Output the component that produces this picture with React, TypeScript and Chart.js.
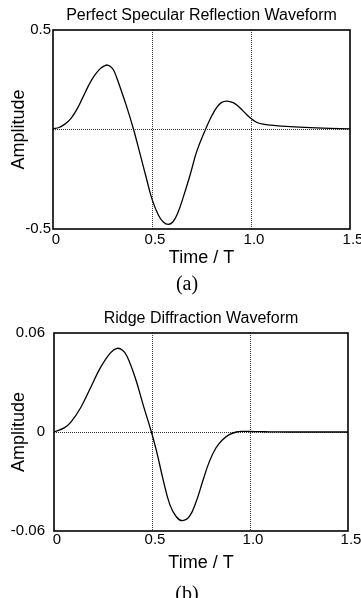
import React, { useEffect, useRef } from "react";
import { Chart, registerables } from "chart.js";

Chart.register(...registerables);

// ---------- data ----------
const timeA = [0, 0.03, 0.06, 0.09, 0.12, 0.15, 0.18, 0.21, 0.24, 0.26, 0.275, 0.29, 0.305, 0.32, 0.338, 0.372, 0.407, 0.439, 0.473, 0.5, 0.532, 0.557, 0.582, 0.605, 0.63, 0.658, 0.692, 0.726, 0.77, 0.8, 0.826, 0.85, 0.877, 0.91, 0.94, 0.978, 1.0, 1.03, 1.06, 1.1, 1.2, 1.3, 1.4, 1.5];
const ampA = [0.004, 0.01, 0.027, 0.055, 0.1, 0.16, 0.222, 0.272, 0.307, 0.32, 0.324, 0.317, 0.3, 0.265, 0.215, 0.115, 0, -0.12, -0.25, -0.35, -0.43, -0.465, -0.477, -0.465, -0.42, -0.34, -0.23, -0.11, 0, 0.065, 0.11, 0.135, 0.143, 0.135, 0.113, 0.075, 0.055, 0.035, 0.027, 0.022, 0.014, 0.009, 0.006, 0.003];

const timeB = [0, 0.052, 0.086, 0.136, 0.187, 0.237, 0.288, 0.322, 0.35, 0.372, 0.414, 0.456, 0.497, 0.524, 0.557, 0.591, 0.625, 0.655, 0.692, 0.726, 0.759, 0.793, 0.826, 0.86, 0.894, 0.93, 0.96, 1.0, 1.05, 1.1, 1.2, 1.3, 1.4, 1.5];
const ampB = [0, 0.0025, 0.006, 0.0147, 0.027, 0.039, 0.048, 0.0507, 0.0495, 0.046, 0.033, 0.016, 0, -0.012, -0.029, -0.044, -0.0515, -0.0537, -0.051, -0.042, -0.0297, -0.0178, -0.0097, -0.0047, -0.0016, 0, 0.0004, 0.0003, 0.0002, 0.0001, 0, 0, 0, 0];

const xTicks = [0, 0.5, 1.0, 1.5];
const xTickLabels = ["0", "0.5", "1.0", "1.5"];
const xGridAt = [0.5, 1.0];

const yTicksA = [-0.5, 0, 0.5];
const yTickLabelsA = ["-0.5", "", "0.5"];
const yTicksB = [-0.06, 0, 0.06];
const yTickLabelsB = ["-0.06", "0", "0.06"];
const yGridAt = [0];

const titleA = "Perfect Specular Reflection Waveform";
const titleB = "Ridge Diffraction Waveform";
const xTitle = "Time / T";
const yTitle = "Amplitude";
const captionA = "(a)";
const captionB = "(b)";

const SANS = "'Liberation Sans', Arial, Helvetica, sans-serif";
const SERIF = "'Liberation Serif', 'Times New Roman', Times, serif";

const near = (a: number, b: number) => Math.abs(a - b) < 1e-9;

const framePlugin = {
  id: "frame",
  afterDatasetsDraw(chart: any) {
    const { ctx, chartArea } = chart;
    const { left, top, right, bottom } = chartArea;
    ctx.save();
    ctx.setLineDash([]);
    ctx.strokeStyle = "#000";
    ctx.lineWidth = 1.6;
    ctx.strokeRect(left, top, right - left, bottom - top);
    ctx.restore();
  },
};

type Props = {
  times: number[];
  amps: number[];
  yTicks: number[];
  yLabels: string[];
  title: string;
  height: number;
  titlePadTop: number;
  titlePadBottom: number;
  yWidth: number;
  yTickPad: number;
  xHeight: number;
  xTickPad: number;
  padRight: number;
  padBottom: number;
};

function WaveChart(p: Props) {
  const ref = useRef<HTMLCanvasElement | null>(null);
  useEffect(() => {
    if (!ref.current) return;
    const yMin = p.yTicks[0];
    const yMax = p.yTicks[p.yTicks.length - 1];
    const chart = new Chart(ref.current, {
      type: "line",
      data: {
        datasets: [
          {
            data: p.times.map((t, i) => ({ x: t, y: p.amps[i] })),
            borderColor: "#000",
            borderWidth: 1.3,
            pointRadius: 0,
            fill: false,
            tension: 0.4,
          },
        ],
      },
      options: {
        animation: false,
        responsive: false,
        events: [],
        layout: { padding: { left: 0, top: 0, right: p.padRight, bottom: p.padBottom } },
        plugins: {
          legend: { display: false },
          tooltip: { enabled: false },
          title: {
            display: true,
            text: p.title,
            fullSize: false,
            color: "#000",
            font: { family: SANS, size: 16, weight: "normal", lineHeight: 1.2 },
            padding: { top: p.titlePadTop, bottom: p.titlePadBottom },
          },
        },
        scales: {
          x: {
            type: "linear",
            min: 0,
            max: 1.5,
            afterBuildTicks: (s: any) => {
              s.ticks = xTicks.map((v) => ({ value: v }));
            },
            afterFit: (s: any) => {
              s.height = p.xHeight;
              s.paddingLeft = 0;
              s.paddingRight = 0;
            },
            ticks: {
              autoSkip: false,
              maxRotation: 0,
              minRotation: 0,
              padding: p.xTickPad,
              labelOffset: 3,
              color: "#000",
              font: { family: SANS, size: 15, lineHeight: 1.2 },
              callback: (v: any) => {
                const i = xTicks.findIndex((t) => near(t, Number(v)));
                return i >= 0 ? xTickLabels[i] : "";
              },
            },
            grid: {
              drawTicks: false,
              lineWidth: 1,
              color: (c: any) =>
                c.tick && xGridAt.some((g) => near(g, c.tick.value)) ? "#3a3a3a" : "rgba(0,0,0,0)",
            },
            border: { display: false, dash: [1, 1] },
            title: {
              display: true,
              text: xTitle,
              color: "#000",
              font: { family: SANS, size: 18, lineHeight: 1.2 },
              padding: { top: 0, bottom: 0 },
            },
          },
          y: {
            type: "linear",
            min: yMin,
            max: yMax,
            afterBuildTicks: (s: any) => {
              s.ticks = p.yTicks.map((v) => ({ value: v }));
            },
            afterFit: (s: any) => {
              s.width = p.yWidth;
              s.paddingTop = 0;
              s.paddingBottom = 0;
            },
            ticks: {
              autoSkip: false,
              padding: p.yTickPad,
              color: "#000",
              font: { family: SANS, size: 15, lineHeight: 1.2 },
              callback: (v: any) => {
                const i = p.yTicks.findIndex((t) => near(t, Number(v)));
                return i >= 0 ? p.yLabels[i] : "";
              },
            },
            grid: {
              drawTicks: false,
              lineWidth: 1,
              color: (c: any) =>
                c.tick && yGridAt.some((g) => near(g, c.tick.value)) ? "#3a3a3a" : "rgba(0,0,0,0)",
            },
            border: { display: false, dash: [1, 1] },
            title: {
              display: true,
              text: yTitle,
              color: "#000",
              font: { family: SANS, size: 18, lineHeight: 1.2 },
              padding: { top: 8.2, bottom: 0 },
            },
          },
        },
      } as any,
      plugins: [framePlugin],
    });
    return () => chart.destroy();
  }, []);
  return <canvas ref={ref} width={361} height={p.height} style={{ display: "block", width: 361, height: p.height }} />;
}

const captionStyle = (top: number): React.CSSProperties => ({
  position: "absolute",
  top,
  left: 137,
  width: 100,
  textAlign: "center",
  fontFamily: SERIF,
  fontSize: 20,
  lineHeight: "20px",
  color: "#000",
});

export default function App() {
  return (
    <div
      style={{
        position: "fixed",
        left: 0,
        top: 0,
        width: 361,
        height: 598,
        overflow: "hidden",
        background: "#fff",
      }}
    >
      <div style={{ position: "absolute", left: 0, top: 0 }}>
        <WaveChart
          times={timeA}
          amps={ampA}
          yTicks={yTicksA}
          yLabels={yTickLabelsA}
          title={titleA}
          height={300}
          titlePadTop={6.4}
          titlePadBottom={4.4}
          yWidth={53}
          yTickPad={2}
          xHeight={39.8}
          xTickPad={2}
          padRight={11}
          padBottom={31.2}
        />
      </div>
      <div style={captionStyle(273)}>{captionA}</div>
      <div style={{ position: "absolute", left: 0, top: 300 }}>
        <WaveChart
          times={timeB}
          amps={ampB}
          yTicks={yTicksB}
          yLabels={yTickLabelsB}
          title={titleB}
          height={298}
          titlePadTop={9.4}
          titlePadBottom={4.4}
          yWidth={54}
          yTickPad={9}
          xHeight={42.8}
          xTickPad={0}
          padRight={13}
          padBottom={24.2}
        />
      </div>
      <div style={captionStyle(583)}>{captionB}</div>
    </div>
  );
}
